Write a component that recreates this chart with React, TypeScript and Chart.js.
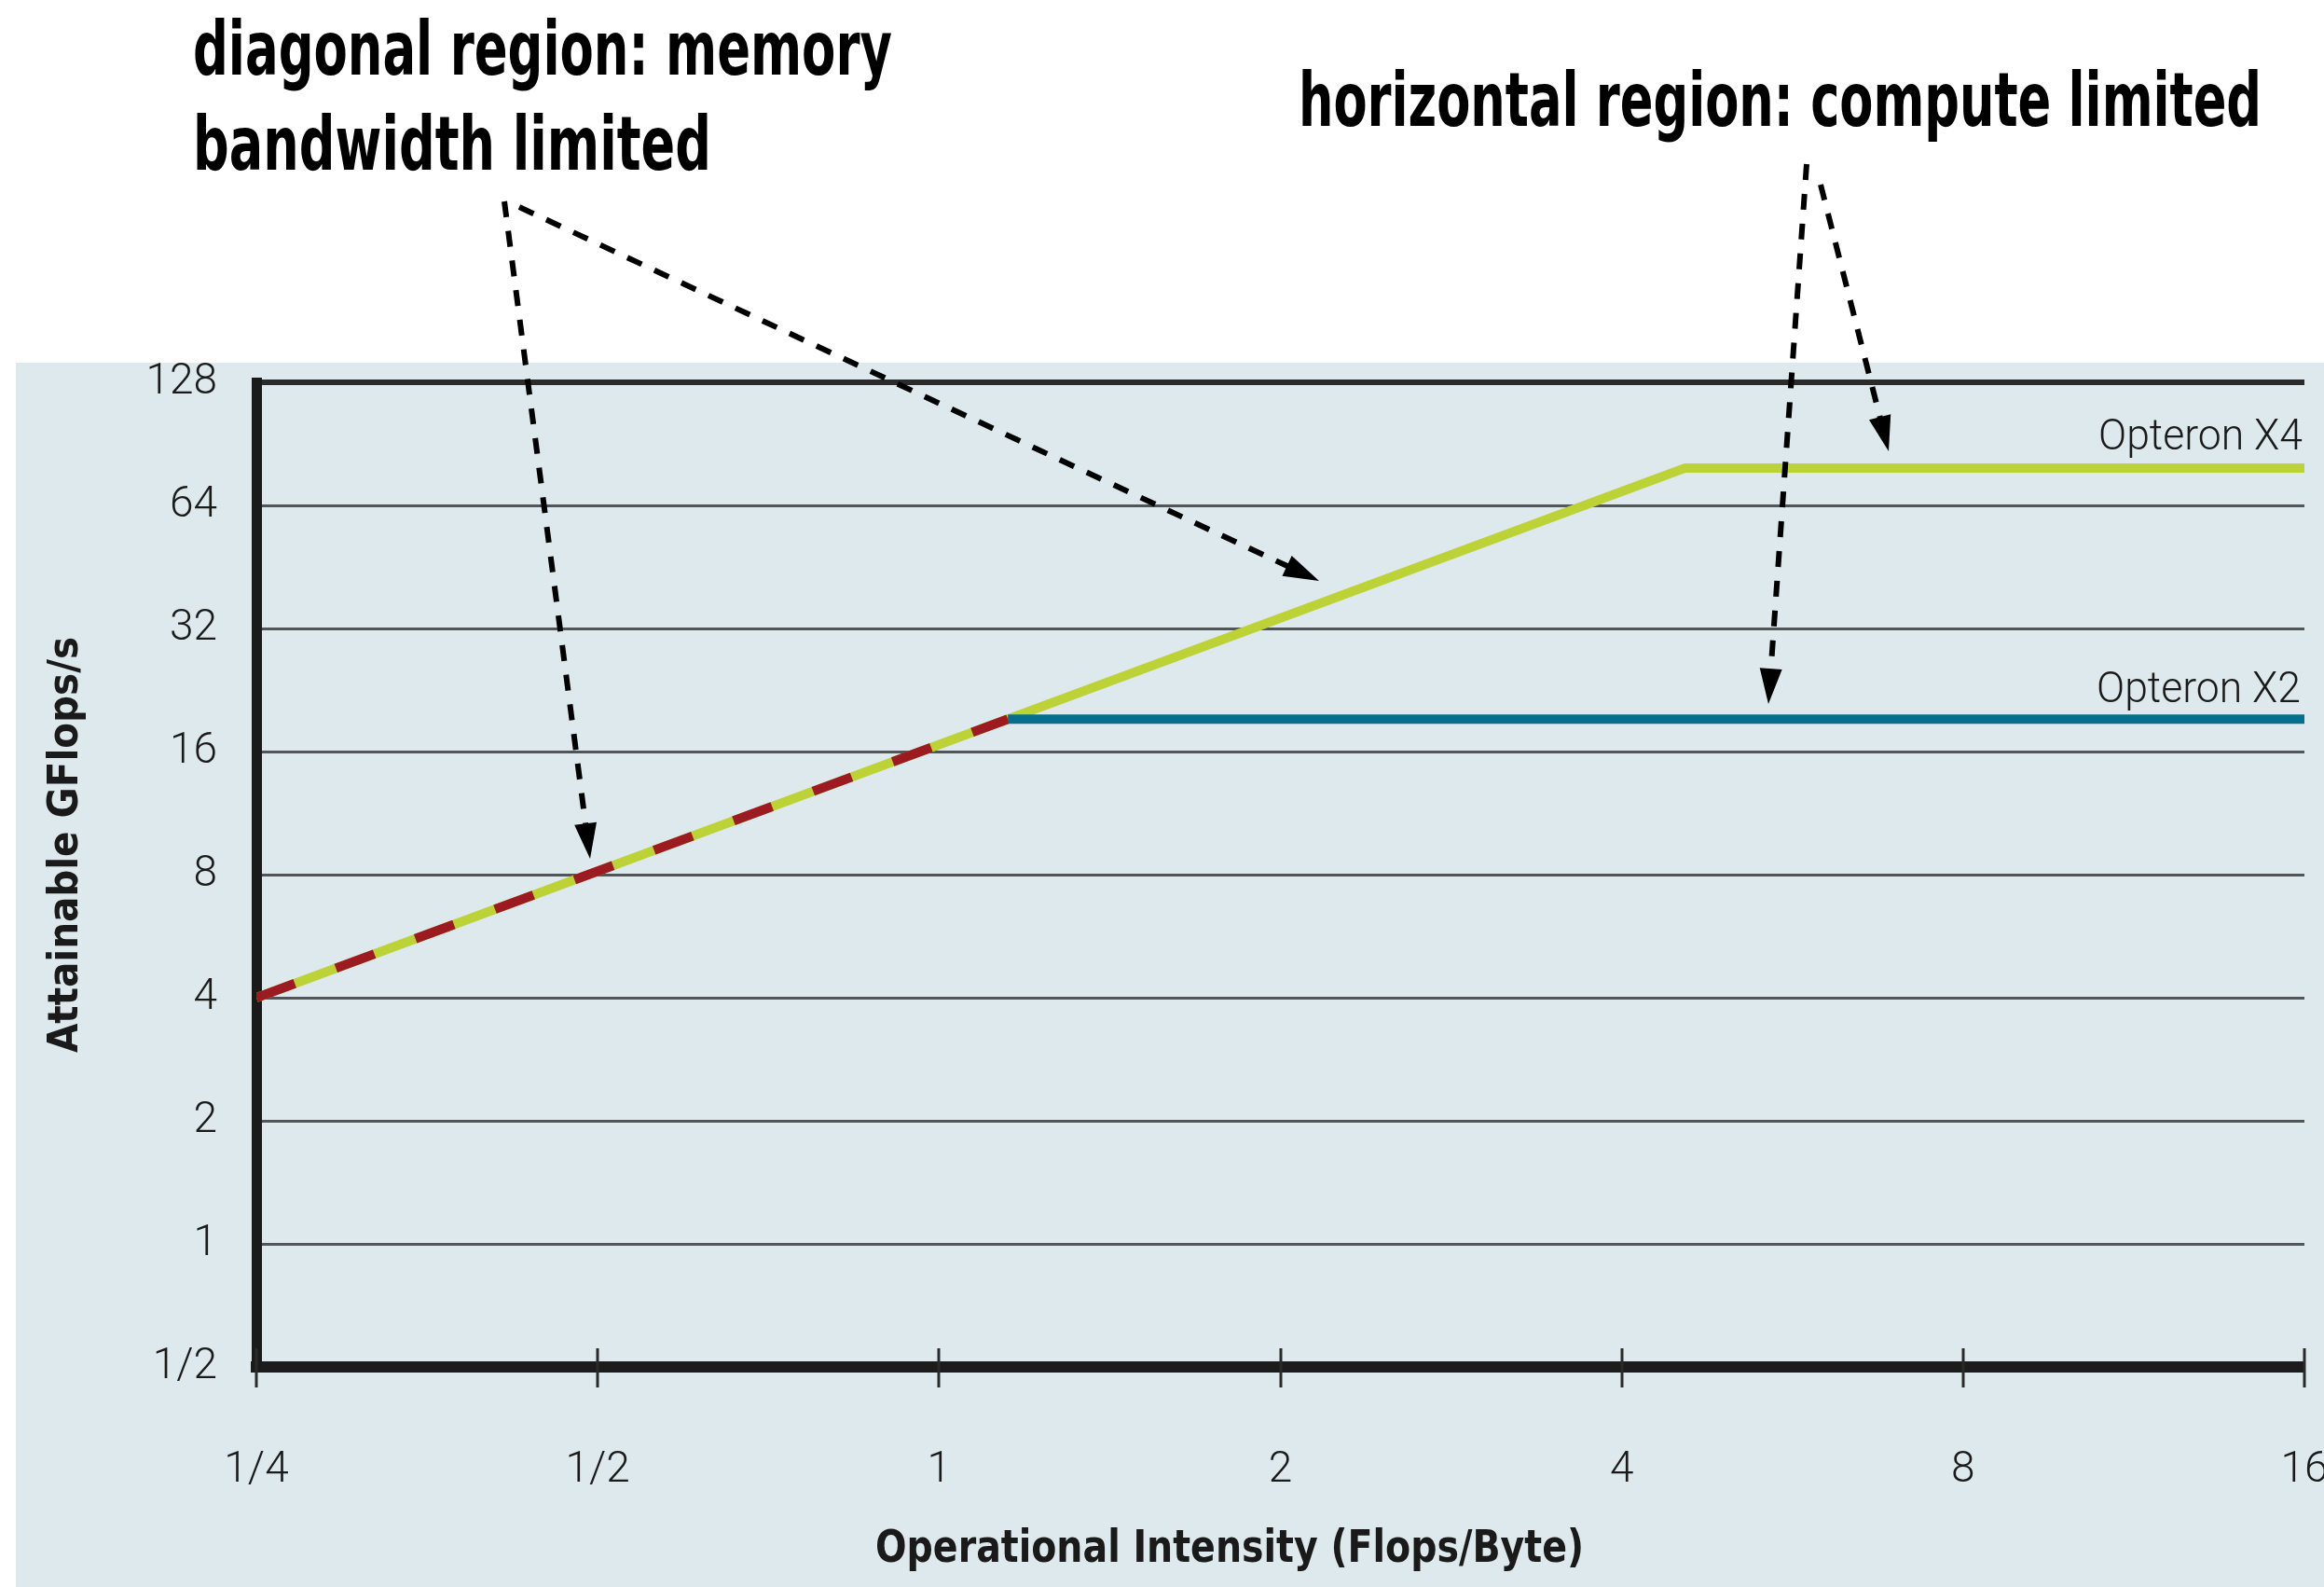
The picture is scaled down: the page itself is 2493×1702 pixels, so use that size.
import React, { useEffect, useRef } from 'react';
import { Chart, registerables } from 'chart.js';

Chart.register(...registerables);

// ---------- data ----------
const X_TICKS = [0.25, 0.5, 1, 2, 4, 8, 16];
const X_TICK_LABELS = ['1/4', '1/2', '1', '2', '4', '8', '16'];
const Y_TICKS = [0.5, 1, 2, 4, 8, 16, 32, 64, 128];
const Y_TICK_LABELS = ['1/2', '1', '2', '4', '8', '16', '32', '64', '128'];

const X4_NAME = 'Opteron X4';
const X4_INTENSITY = [0.25, 4.55, 16];
const X4_GFLOPS = [4, 79, 79];

const X2_NAME = 'Opteron X2';
const X2_INTENSITY = [0.25, 1.15, 16];
const X2_GFLOPS = [4, 19.2, 19.2];

const X_TITLE = 'Operational Intensity (Flops/Byte)';
const Y_TITLE = 'Attainable GFlops/s';
const NOTE_DIAGONAL = ['diagonal region: memory', 'bandwidth limited'];
const NOTE_HORIZONTAL = 'horizontal region: compute limited';

// ---------- layout / style ----------
const W = 2493;
const H = 1702;
const PANEL = { x: 17, y: 389, color: '#dde9ec' };
const NOTE_FONT = 'bold 80px "Liberation Sans Narrow", "DejaVu Sans Condensed", "Liberation Sans", sans-serif';
const TITLE_FONT_FAMILY = '"Liberation Sans Narrow", "DejaVu Sans Condensed", "Liberation Sans", sans-serif';
const TICK_FONT = { family: 'Roboto, "Liberation Sans", sans-serif', size: 46, weight: '300' as any };
const NOTES = [
  { text: NOTE_DIAGONAL[0], x: 207, y: 80, w: 750 },
  { text: NOTE_DIAGONAL[1], x: 207, y: 182, w: 556 },
  { text: NOTE_HORIZONTAL, x: 1393, y: 135, w: 1033 },
];
const ARROWS = [
  { from: [541, 216], to: [633, 921] },
  { from: [557, 222], to: [1415, 623] },
  { from: [1938, 176], to: [1897, 755] },
  { from: [1953, 198], to: [2026, 484] },
];

function fitText(ctx: CanvasRenderingContext2D, text: string, x: number, y: number, w: number, font: string) {
  ctx.save();
  ctx.font = font;
  ctx.textAlign = 'left';
  ctx.textBaseline = 'alphabetic';
  const m = ctx.measureText(text).width || 1;
  ctx.translate(x, y);
  ctx.scale(w / m, 1);
  ctx.fillText(text, 0, 0);
  ctx.restore();
}

function drawArrow(ctx: CanvasRenderingContext2D, x0: number, y0: number, x1: number, y1: number) {
  const ang = Math.atan2(y1 - y0, x1 - x0);
  const headLen = 38;
  const headW = 12;
  const bx = x1 - Math.cos(ang) * headLen;
  const by = y1 - Math.sin(ang) * headLen;
  ctx.save();
  ctx.strokeStyle = '#000';
  ctx.fillStyle = '#000';
  ctx.lineWidth = 6;
  ctx.lineCap = 'butt';
  ctx.setLineDash([17, 15]);
  ctx.beginPath();
  ctx.moveTo(x0, y0);
  ctx.lineTo(bx + Math.cos(ang) * 4, by + Math.sin(ang) * 4);
  ctx.stroke();
  ctx.setLineDash([]);
  const px = -Math.sin(ang);
  const py = Math.cos(ang);
  ctx.beginPath();
  ctx.moveTo(x1, y1);
  ctx.lineTo(bx + px * headW, by + py * headW);
  ctx.lineTo(bx - px * headW, by - py * headW);
  ctx.closePath();
  ctx.fill();
  ctx.restore();
}

const decorPlugin = {
  id: 'decor',
  beforeDraw(chart: any) {
    const ctx: CanvasRenderingContext2D = chart.ctx;
    ctx.save();
    ctx.fillStyle = '#ffffff';
    ctx.fillRect(0, 0, W, H);
    ctx.fillStyle = PANEL.color;
    ctx.fillRect(PANEL.x, PANEL.y, W - PANEL.x, H - PANEL.y);
    ctx.restore();
  },
  afterDraw(chart: any) {
    const ctx: CanvasRenderingContext2D = chart.ctx;
    const xs = chart.scales.x;
    const ys = chart.scales.y;
    const area = chart.chartArea;
    // x tick marks crossing the axis
    ctx.save();
    ctx.strokeStyle = '#2a2a2a';
    ctx.lineWidth = 3;
    X_TICKS.forEach((v) => {
      const px = Math.round(xs.getPixelForValue(v));
      ctx.beginPath();
      ctx.moveTo(px, area.bottom - 20);
      ctx.lineTo(px, area.bottom + 22);
      ctx.stroke();
    });
    ctx.restore();

    ctx.fillStyle = '#1a1a1a';
    // series labels
    const labelFont = '300 46px Roboto, "Open Sans", "Liberation Sans", sans-serif';
    fitText(ctx, X4_NAME, area.right - 221, ys.getPixelForValue(X4_GFLOPS[X4_GFLOPS.length - 1]) - 20, 219, labelFont);
    fitText(ctx, X2_NAME, area.right - 223, ys.getPixelForValue(X2_GFLOPS[X2_GFLOPS.length - 1]) - 18, 219, labelFont);

    // axis titles
    fitText(ctx, X_TITLE, 939, 1675, 760, 'bold 48px ' + TITLE_FONT_FAMILY);
    ctx.save();
    ctx.translate(83, 1129);
    ctx.rotate(-Math.PI / 2);
    fitText(ctx, Y_TITLE, 0, 0, 446, 'bold 44px ' + TITLE_FONT_FAMILY);
    ctx.restore();

    // annotations
    ctx.fillStyle = '#000';
    NOTES.forEach((n) => fitText(ctx, n.text, n.x, n.y, n.w, NOTE_FONT));
    ARROWS.forEach((a) => drawArrow(ctx, a.from[0], a.from[1], a.to[0], a.to[1]));
  },
};

export default function App() {
  const ref = useRef<HTMLCanvasElement | null>(null);
  useEffect(() => {
    if (!ref.current) return;
    const x4 = X4_INTENSITY.map((x, i) => ({ x, y: X4_GFLOPS[i] }));
    const x2 = X2_INTENSITY.map((x, i) => ({ x, y: X2_GFLOPS[i] }));
    const chart = new Chart(ref.current, {
      type: 'line',
      data: {
        datasets: [
          {
            label: X2_NAME,
            data: x2,
            borderColor: '#066f8d',
            borderWidth: 10,
            pointRadius: 0,
            tension: 0,
            borderCapStyle: 'butt',
            segment: {
              borderColor: (c: any) => (c.p0DataIndex === 0 ? '#9c1b21' : undefined),
              borderDash: (c: any) => (c.p0DataIndex === 0 ? [44, 47] : undefined),
            },
          } as any,
          {
            label: X4_NAME,
            data: x4,
            borderColor: '#bdd236',
            borderWidth: 10,
            pointRadius: 0,
            tension: 0,
            borderCapStyle: 'butt',
            borderJoinStyle: 'miter',
          } as any,
        ],
      },
      options: {
        animation: false,
        responsive: false,
        devicePixelRatio: 1,
        parsing: false as any,
        layout: { padding: { left: 0, top: 410, right: 21, bottom: 0 } },
        plugins: { legend: { display: false }, tooltip: { enabled: false } },
        scales: {
          x: {
            type: 'logarithmic',
            min: 0.25,
            max: 16,
            afterBuildTicks: (s: any) => {
              s.ticks = X_TICKS.map((v) => ({ value: v }));
            },
            afterFit: (s: any) => {
              s.height = 236;
              s.paddingLeft = 0;
              s.paddingRight = 0;
            },
            ticks: {
              autoSkip: false,
              maxRotation: 0,
              minRotation: 0,
              padding: 84,
              color: '#1a1a1a',
              font: TICK_FONT,
              callback: (_v: any, i: number) => X_TICK_LABELS[i],
            },
            grid: { display: false, drawTicks: false },
            border: { display: true, width: 12, color: '#1c1c1c' },
          },
          y: {
            type: 'logarithmic',
            min: 0.5,
            max: 128,
            afterBuildTicks: (s: any) => {
              s.ticks = Y_TICKS.map((v) => ({ value: v }));
            },
            afterFit: (s: any) => {
              s.width = 275;
              s.paddingTop = 0;
              s.paddingBottom = 0;
            },
            ticks: {
              autoSkip: false,
              padding: 42,
              color: '#1a1a1a',
              font: TICK_FONT,
              callback: (_v: any, i: number) => Y_TICK_LABELS[i],
            },
            grid: {
              drawTicks: false,
              color: (c: any) => (c.tick && c.tick.value === 128 ? '#2b2b2b' : '#525558'),
              lineWidth: (c: any) => (c.tick && c.tick.value === 128 ? 6 : 3),
            },
            border: { display: true, width: 11, color: '#1a1a1a' },
          },
        },
      } as any,
      plugins: [decorPlugin],
    });
    return () => chart.destroy();
  }, []);
  return (
    <canvas
      ref={ref}
      width={W}
      height={H}
      style={{ position: 'fixed', left: 0, top: 0, width: W, height: H }}
    />
  );
}
